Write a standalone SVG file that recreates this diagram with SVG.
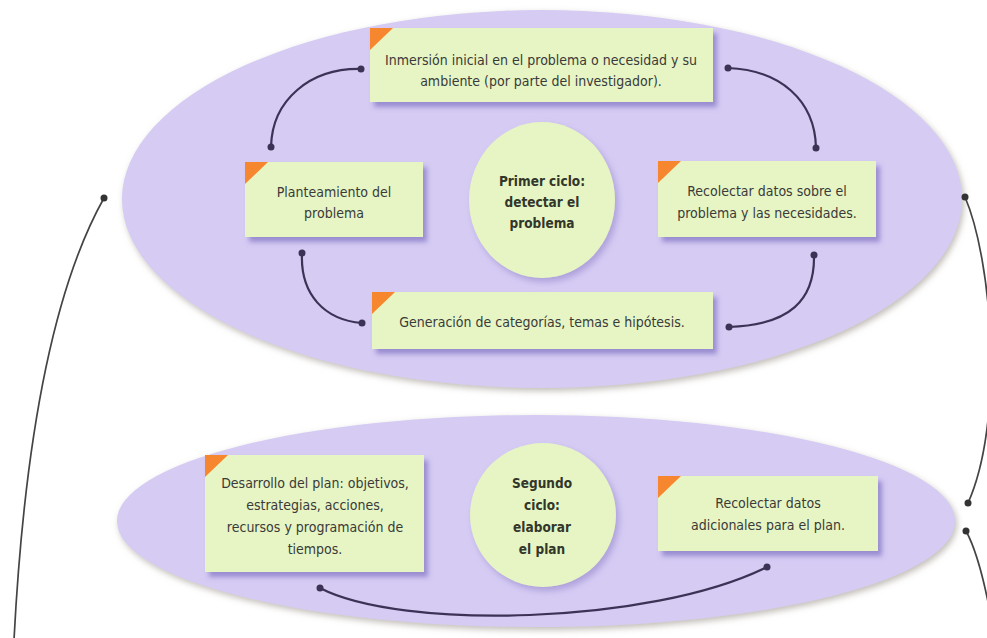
<svg xmlns="http://www.w3.org/2000/svg" width="987" height="638" viewBox="0 0 987 638">
<defs>
<filter id="eshadow" x="-5%" y="-10%" width="110%" height="125%">
<feDropShadow dx="2" dy="3" stdDeviation="3" flood-color="#9a9288" flood-opacity="0.6"/>
</filter>
<filter id="bshadow" x="-10%" y="-15%" width="125%" height="140%">
<feDropShadow dx="4" dy="5" stdDeviation="2.5" flood-color="#8a7cc8" flood-opacity="0.8"/>
</filter>
<filter id="cshadow" x="-15%" y="-15%" width="135%" height="135%">
<feDropShadow dx="3" dy="4" stdDeviation="3" flood-color="#9c8fd0" flood-opacity="0.7"/>
</filter>
</defs>
<style>
.cyc{fill:#d5cbf3;filter:url(#eshadow)}
.box{fill:#e6f5c3;filter:url(#bshadow)}
.tri{fill:#f6872f}
.circ{fill:#e6f5c3;filter:url(#cshadow)}
.t{font-family:"Liberation Sans Narrow","DejaVu Sans Condensed","Liberation Sans",sans-serif;font-size:14px;fill:#3a3a3a;text-anchor:middle}
.b{font-family:"DejaVu Sans Condensed","Liberation Sans Narrow","Liberation Sans",sans-serif;font-size:13.5px;font-weight:bold;fill:#33362a;text-anchor:middle}
.con{fill:none;stroke:#3d3155;stroke-width:2.2;stroke-linecap:round}
.out{fill:none;stroke:#444;stroke-width:1.7;stroke-linecap:round}
.dot{fill:#3d3155}
.odot{fill:#333}
</style>
<rect width="987" height="638" fill="#ffffff"/>
<g id="cycle1"><ellipse class="cyc" cx="542" cy="199" rx="420" ry="189"/></g>
<g id="cycle2"><ellipse class="cyc" cx="536" cy="521" rx="419" ry="106"/></g>

<g id="connectors">
<path class="con" d="M361,69 C310,68 272,100 271,147"/>
<circle class="dot" cx="361" cy="69" r="3.5"/><circle class="dot" cx="271" cy="147" r="3.5"/>
<path class="con" d="M728,68 C780,70 815,100 816,148"/>
<circle class="dot" cx="728" cy="68" r="3.5"/><circle class="dot" cx="816" cy="148" r="3.5"/>
<path class="con" d="M302,253 C300,295 325,320 362,323"/>
<circle class="dot" cx="302" cy="253" r="3.5"/><circle class="dot" cx="362" cy="323" r="3.5"/>
<path class="con" d="M814,255 C815,300 790,325 729,327"/>
<circle class="dot" cx="814" cy="255" r="3.5"/><circle class="dot" cx="729" cy="327" r="3.5"/>
<path class="con" d="M320,588 C400,630 650,625 767,567"/>
<circle class="dot" cx="320" cy="588" r="3.5"/><circle class="dot" cx="767" cy="567" r="3.5"/>
<path class="out" d="M104,198 Q30,330 14,640"/>
<circle class="odot" cx="104" cy="198" r="3.5"/>
<path class="out" d="M965,197 C992,260 1005,420 968,503"/>
<circle class="odot" cx="965" cy="197" r="3.5"/><circle class="odot" cx="968" cy="503" r="3.5"/>
<path class="out" d="M966,531 Q982,560 995,640"/>
<circle class="odot" cx="966" cy="531" r="3.5"/>
</g>

<g id="n-inmersion">
<rect class="box" x="370" y="28" width="343" height="74"/>
<polygon class="tri" points="370,28 393,28 370,50"/>
<text class="t" x="541" y="65">Inmersión inicial en el problema o necesidad y su</text>
<text class="t" x="541" y="86">ambiente (por parte del investigador).</text>
</g>
<g id="n-planteamiento">
<rect class="box" x="245" y="162" width="178" height="75"/>
<polygon class="tri" points="245,162 268,162 245,184"/>
<text class="t" x="334" y="197">Planteamiento del</text>
<text class="t" x="334" y="218">problema</text>
</g>
<g id="n-primer">
<ellipse class="circ" cx="542" cy="200" rx="73" ry="78"/>
<text class="b" x="542" y="186">Primer ciclo:</text>
<text class="b" x="542" y="207">detectar el</text>
<text class="b" x="542" y="228">problema</text>
</g>
<g id="n-recolectar1">
<rect class="box" x="658" y="161" width="218" height="76"/>
<polygon class="tri" points="658,161 681,161 658,183"/>
<text class="t" x="767" y="196">Recolectar datos sobre el</text>
<text class="t" x="767" y="218">problema y las necesidades.</text>
</g>
<g id="n-generacion">
<rect class="box" x="372" y="292" width="341" height="57"/>
<polygon class="tri" points="372,292 395,292 372,314"/>
<text class="t" x="542" y="327">Generación de categorías, temas e hipótesis.</text>
</g>
<g id="n-desarrollo">
<rect class="box" x="205" y="455" width="219" height="117"/>
<polygon class="tri" points="205,455 228,455 205,477"/>
<text class="t" x="315" y="488">Desarrollo del plan: objetivos,</text>
<text class="t" x="315" y="510">estrategias, acciones,</text>
<text class="t" x="315" y="532">recursos y programación de</text>
<text class="t" x="315" y="554">tiempos.</text>
</g>
<g id="n-segundo">
<ellipse class="circ" cx="543" cy="515" rx="73" ry="72"/>
<text class="b" x="542" y="488">Segundo</text>
<text class="b" x="542" y="510">ciclo:</text>
<text class="b" x="542" y="532">elaborar</text>
<text class="b" x="542" y="554">el plan</text>
</g>
<g id="n-recolectar2">
<rect class="box" x="658" y="476" width="220" height="75"/>
<polygon class="tri" points="658,476 681,476 658,498"/>
<text class="t" x="768" y="508">Recolectar datos</text>
<text class="t" x="768" y="530">adicionales para el plan.</text>
</g>
</svg>
